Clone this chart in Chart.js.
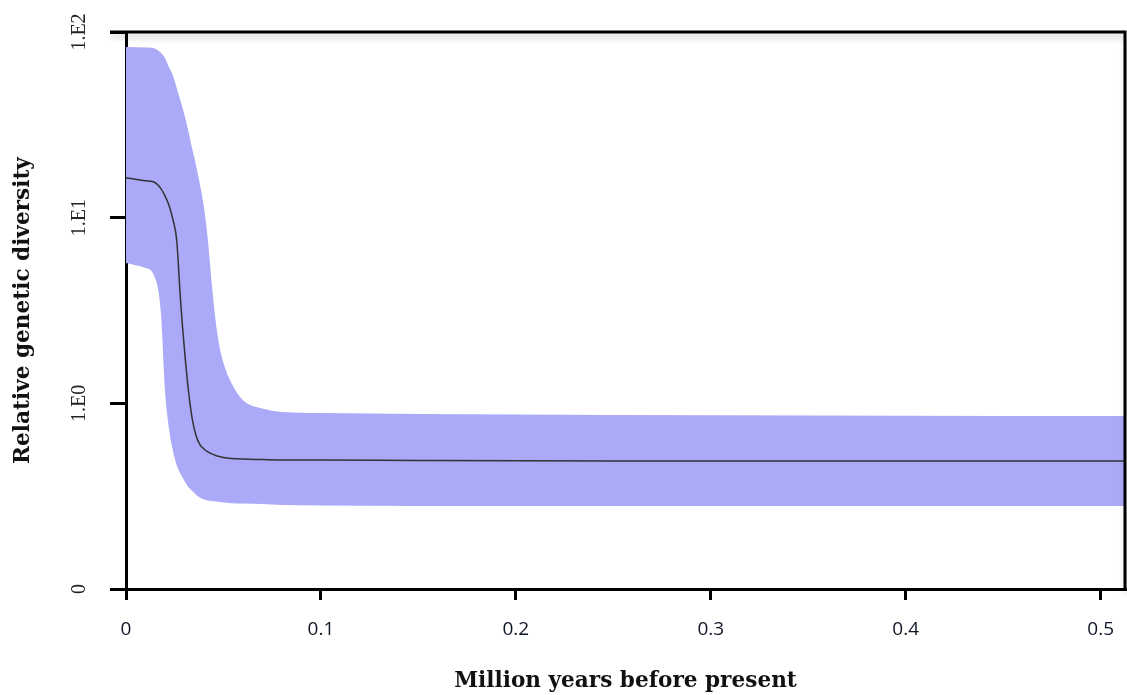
<!DOCTYPE html>
<html>
<head>
<meta charset="utf-8">
<script src="https://cdn.jsdelivr.net/npm/chart.js@4.4.1/dist/chart.umd.min.js"></script>
<style>
  body { margin: 0; background: #fff; }
  .wrap { width: 1127px; height: 695px; }
</style>
</head>
<body>
<div class="wrap"><canvas id="skyline"></canvas></div>
<script>
// time before present (million years)
var times = [0, 0.010, 0.014, 0.018, 0.020, 0.022, 0.024, 0.026, 0.028, 0.030,
  0.032, 0.034, 0.036, 0.038, 0.040, 0.042, 0.044, 0.046, 0.048, 0.050,
  0.054, 0.060, 0.070, 0.080, 0.100, 0.150, 0.250, 0.350, 0.450, 0.5125]

// upper 95% HPD, median, lower 95% HPD
var upper = [83.0, 82.5, 82.0, 77.1, 72.4, 64.8, 58.6, 49.9, 42.5, 35.7,
  29.3, 23.4, 19.0, 15.0, 11.3, 7.58, 4.40, 2.77, 2.01, 1.65,
  1.29, 1.04, 0.938, 0.898, 0.887, 0.876, 0.865, 0.860, 0.855, 0.855]
var median = [16.4, 15.8, 15.6, 14.3, 13.1, 11.7, 9.84, 7.58, 3.56, 1.94,
  1.18, 0.823, 0.667, 0.597, 0.568, 0.547, 0.534, 0.524, 0.517, 0.511,
  0.505, 0.501, 0.498, 0.495, 0.495, 0.492, 0.489, 0.489, 0.489, 0.489]
var lower = [5.70, 5.36, 4.97, 2.99, 1.18, 0.736, 0.561, 0.465, 0.416, 0.382,
  0.354, 0.337, 0.321, 0.311, 0.303, 0.300, 0.298, 0.296, 0.294, 0.292,
  0.290, 0.289, 0.287, 0.283, 0.282, 0.280, 0.280, 0.280, 0.280, 0.280]

var xTicks = [0, 0.1, 0.2, 0.3, 0.4, 0.5]
var xTickLabels = ["0", "0.1", "0.2", "0.3", "0.4", "0.5"]
var yTicks = [0.1, 1, 10, 100]
var yTickLabels = ["0", "1.E0", "1.E1", "1.E2"]

var toPoints = function(vals){
    return times.map(function(t, i){ return {x: t, y: vals[i]} })
}

// top and right edges of the box
var framePlugin = {
    id: "frame",
    afterDraw: function(chart){
        var ctx = chart.ctx, a = chart.chartArea
        ctx.save()
        ctx.strokeStyle = "#000"
        ctx.lineWidth = 3
        ctx.shadowColor = "rgba(0,0,0,0.22)"
        ctx.shadowBlur = 6
        ctx.shadowOffsetY = 4
        ctx.shadowOffsetX = 2
        ctx.beginPath()
        ctx.moveTo(a.left - 16, a.top)
        ctx.lineTo(a.right, a.top)
        ctx.lineTo(a.right, a.bottom)
        ctx.stroke()
        ctx.restore()
    }
}

var config = {
    type: "line",
    data: {
        datasets: [
            {
                label: "median",
                data: toPoints(median),
                borderColor: "#333",
                borderWidth: 1.5,
                pointRadius: 0,
                cubicInterpolationMode: "monotone",
                fill: false
            },
            {
                label: "upper",
                data: toPoints(upper),
                borderWidth: 0,
                borderColor: "rgba(0,0,0,0)",
                backgroundColor: "#aaaaf8",
                pointRadius: 0,
                cubicInterpolationMode: "monotone",
                fill: "+1"
            },
            {
                label: "lower",
                data: toPoints(lower),
                borderWidth: 0,
                borderColor: "rgba(0,0,0,0)",
                pointRadius: 0,
                cubicInterpolationMode: "monotone",
                fill: false
            }
        ]
    },
    options: {
        responsive: true,
        maintainAspectRatio: false,
        animation: false,
        layout: { padding: { top: 32, right: 2, left: 0, bottom: 0 } },
        scales: {
            x: {
                type: "linear",
                min: 0,
                max: 0.5125,
                afterBuildTicks: function(scale){
                    scale.ticks = xTicks.map(function(v){ return {value: v} })
                },
                afterFit: function(scale){
                    scale.height = 106
                    scale.paddingRight = 0
                    scale.paddingLeft = 0
                },
                ticks: {
                    callback: function(v, i){ return xTickLabels[i] },
                    color: "#0f1626",
                    font: { family: "Open Sans", size: 19, weight: "500" },
                    padding: 18,
                    maxRotation: 0,
                    autoSkip: false
                },
                grid: {
                    drawOnChartArea: false,
                    color: "#000",
                    lineWidth: 3,
                    tickLength: 11
                },
                border: { display: true, color: "#000", width: 3 },
                title: {
                    display: true,
                    text: "Million years before present",
                    color: "#111",
                    font: { family: "DejaVu Serif", size: 21.6, weight: "bold" },
                    padding: { top: 0, bottom: 1 }
                }
            },
            y: {
                type: "logarithmic",
                min: 0.1,
                max: 100,
                afterBuildTicks: function(scale){
                    scale.ticks = yTicks.map(function(v){ return {value: v} })
                },
                afterFit: function(scale){ scale.width = 126 },
                ticks: {
                    callback: function(v, i){ return yTickLabels[i] },
                    color: "#222",
                    font: { family: "Liberation Serif", size: 20 },
                    minRotation: 90,
                    maxRotation: 90,
                    crossAlign: "center",
                    padding: 12,
                    autoSkip: false
                },
                grid: {
                    drawOnChartArea: false,
                    color: "#000",
                    lineWidth: 3,
                    tickLength: 16
                },
                border: { display: true, color: "#000", width: 3 },
                title: {
                    display: true,
                    text: "Relative genetic diversity",
                    color: "#111",
                    font: { family: "DejaVu Serif", size: 21.6, weight: "bold" },
                    padding: { top: 10, bottom: 0 }
                }
            }
        },
        plugins: {
            legend: { display: false },
            tooltip: { enabled: false }
        }
    },
    plugins: [framePlugin]
}

var chart = new Chart(document.getElementById("skyline"), config)
</script>
</body>
</html>
